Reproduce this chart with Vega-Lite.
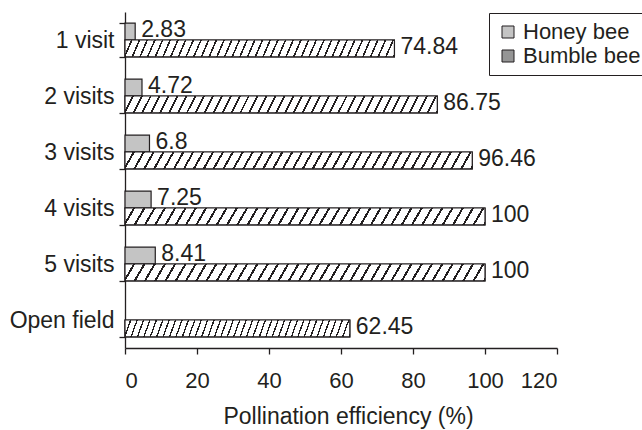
{
  "$schema": "https://vega.github.io/schema/vega-lite/v6.json",
  "width": 432,
  "height": 336,
  "autosize": {"type": "none"},
  "padding": {"left": 125, "top": 12, "right": 85, "bottom": 82},
  "config": {
    "view": {"stroke": null},
    "font": "Liberation Sans",
    "axis": {"grid": false, "domainColor": "#231f20", "tickColor": "#231f20", "labelColor": "#231f20", "titleColor": "#231f20", "domainWidth": 1.3, "tickWidth": 1.3, "tickSize": 6, "labelFontSize": 22, "titleFontSize": 23, "titleFontWeight": "normal", "labelFont": "Liberation Sans", "titleFont": "Liberation Sans"}
  },
  "data": {
    "values": [
      {"treatment": "1 visit", "bee": "Honey bee", "value": 2.83},
      {"treatment": "1 visit", "bee": "Bumble bee", "value": 74.84},
      {"treatment": "2 visits", "bee": "Honey bee", "value": 4.72},
      {"treatment": "2 visits", "bee": "Bumble bee", "value": 86.75},
      {"treatment": "3 visits", "bee": "Honey bee", "value": 6.8},
      {"treatment": "3 visits", "bee": "Bumble bee", "value": 96.46},
      {"treatment": "4 visits", "bee": "Honey bee", "value": 7.25},
      {"treatment": "4 visits", "bee": "Bumble bee", "value": 100},
      {"treatment": "5 visits", "bee": "Honey bee", "value": 8.41},
      {"treatment": "5 visits", "bee": "Bumble bee", "value": 100},
      {"treatment": "Open field", "bee": "Bumble bee", "value": 62.45}
    ]
  },
  "encoding": {
    "y": {"field": "treatment", "type": "nominal", "sort": ["1 visit", "2 visits", "3 visits", "4 visits", "5 visits", "Open field"], "scale": {"paddingInner": 0.4, "paddingOuter": 0.2}, "axis": {"title": null, "tickBand": "extent", "labelPadding": 5, "labelFontSize": 23}},
    "yOffset": {"field": "bee", "type": "nominal", "sort": ["Honey bee", "Bumble bee"], "scale": {"domain": ["Honey bee", "Bumble bee"]}},
    "x": {"field": "value", "type": "quantitative", "scale": {"domain": [0, 120], "nice": false}, "axis": {"title": "Pollination efficiency (%)", "values": [0, 20, 40, 60, 80, 100, 120], "labelPadding": 16, "titleBaseline": "alphabetic", "titleY": 75, "titleX": 223, "titleAlign": "center"}}
  },
  "layer": [
    {
      "mark": {"type": "bar", "stroke": "#231f20", "strokeWidth": 1.2},
      "encoding": {
        "color": {
          "field": "bee", "type": "nominal",
          "scale": {"domain": ["Honey bee", "Bumble bee"], "range": ["#c4c4c4", "#959595"]},
          "legend": {"title": null, "orient": "none", "legendX": 364, "legendY": 1, "strokeColor": "#231f20", "fillColor": "white", "padding": 8, "rowPadding": 2, "labelFontSize": 22, "labelFont": "Liberation Sans", "labelColor": "#231f20", "symbolType": "square", "symbolSize": 144, "symbolStrokeColor": "#231f20", "symbolStrokeWidth": 1, "labelOffset": 4}
        }
      }
    },
    {
      "transform": [{"filter": "datum.bee === 'Bumble bee'"}],
      "mark": {"type": "bar", "stroke": "#231f20", "strokeWidth": 1.2, "fill": {"gradient": "linear", "x1": 0, "y1": 0, "x2": 1.0263, "y2": 0.0277, "stops": [
            {"offset":0,"color":"#ffffff"},{"offset":0.0217,"color":"#ffffff"},{"offset":0.0217,"color":"#231f20"},{"offset":0.0278,"color":"#231f20"},
            {"offset":0.0278,"color":"#ffffff"},{"offset":0.0494,"color":"#ffffff"},{"offset":0.0494,"color":"#231f20"},{"offset":0.0556,"color":"#231f20"},
            {"offset":0.0556,"color":"#ffffff"},{"offset":0.0772,"color":"#ffffff"},{"offset":0.0772,"color":"#231f20"},{"offset":0.0833,"color":"#231f20"},
            {"offset":0.0833,"color":"#ffffff"},{"offset":0.1050,"color":"#ffffff"},{"offset":0.1050,"color":"#231f20"},{"offset":0.1111,"color":"#231f20"},
            {"offset":0.1111,"color":"#ffffff"},{"offset":0.1328,"color":"#ffffff"},{"offset":0.1328,"color":"#231f20"},{"offset":0.1389,"color":"#231f20"},
            {"offset":0.1389,"color":"#ffffff"},{"offset":0.1606,"color":"#ffffff"},{"offset":0.1606,"color":"#231f20"},{"offset":0.1667,"color":"#231f20"},
            {"offset":0.1667,"color":"#ffffff"},{"offset":0.1883,"color":"#ffffff"},{"offset":0.1883,"color":"#231f20"},{"offset":0.1944,"color":"#231f20"},
            {"offset":0.1944,"color":"#ffffff"},{"offset":0.2161,"color":"#ffffff"},{"offset":0.2161,"color":"#231f20"},{"offset":0.2222,"color":"#231f20"},
            {"offset":0.2222,"color":"#ffffff"},{"offset":0.2439,"color":"#ffffff"},{"offset":0.2439,"color":"#231f20"},{"offset":0.25,"color":"#231f20"},
            {"offset":0.25,"color":"#ffffff"},{"offset":0.2717,"color":"#ffffff"},{"offset":0.2717,"color":"#231f20"},{"offset":0.2778,"color":"#231f20"},
            {"offset":0.2778,"color":"#ffffff"},{"offset":0.2994,"color":"#ffffff"},{"offset":0.2994,"color":"#231f20"},{"offset":0.3056,"color":"#231f20"},
            {"offset":0.3056,"color":"#ffffff"},{"offset":0.3272,"color":"#ffffff"},{"offset":0.3272,"color":"#231f20"},{"offset":0.3333,"color":"#231f20"},
            {"offset":0.3333,"color":"#ffffff"},{"offset":0.3550,"color":"#ffffff"},{"offset":0.3550,"color":"#231f20"},{"offset":0.3611,"color":"#231f20"},
            {"offset":0.3611,"color":"#ffffff"},{"offset":0.3828,"color":"#ffffff"},{"offset":0.3828,"color":"#231f20"},{"offset":0.3889,"color":"#231f20"},
            {"offset":0.3889,"color":"#ffffff"},{"offset":0.4106,"color":"#ffffff"},{"offset":0.4106,"color":"#231f20"},{"offset":0.4167,"color":"#231f20"},
            {"offset":0.4167,"color":"#ffffff"},{"offset":0.4383,"color":"#ffffff"},{"offset":0.4383,"color":"#231f20"},{"offset":0.4444,"color":"#231f20"},
            {"offset":0.4444,"color":"#ffffff"},{"offset":0.4661,"color":"#ffffff"},{"offset":0.4661,"color":"#231f20"},{"offset":0.4722,"color":"#231f20"},
            {"offset":0.4722,"color":"#ffffff"},{"offset":0.4939,"color":"#ffffff"},{"offset":0.4939,"color":"#231f20"},{"offset":0.5,"color":"#231f20"},
            {"offset":0.5,"color":"#ffffff"},{"offset":0.5217,"color":"#ffffff"},{"offset":0.5217,"color":"#231f20"},{"offset":0.5278,"color":"#231f20"},
            {"offset":0.5278,"color":"#ffffff"},{"offset":0.5494,"color":"#ffffff"},{"offset":0.5494,"color":"#231f20"},{"offset":0.5556,"color":"#231f20"},
            {"offset":0.5556,"color":"#ffffff"},{"offset":0.5772,"color":"#ffffff"},{"offset":0.5772,"color":"#231f20"},{"offset":0.5833,"color":"#231f20"},
            {"offset":0.5833,"color":"#ffffff"},{"offset":0.6050,"color":"#ffffff"},{"offset":0.6050,"color":"#231f20"},{"offset":0.6111,"color":"#231f20"},
            {"offset":0.6111,"color":"#ffffff"},{"offset":0.6328,"color":"#ffffff"},{"offset":0.6328,"color":"#231f20"},{"offset":0.6389,"color":"#231f20"},
            {"offset":0.6389,"color":"#ffffff"},{"offset":0.6606,"color":"#ffffff"},{"offset":0.6606,"color":"#231f20"},{"offset":0.6667,"color":"#231f20"},
            {"offset":0.6667,"color":"#ffffff"},{"offset":0.6883,"color":"#ffffff"},{"offset":0.6883,"color":"#231f20"},{"offset":0.6944,"color":"#231f20"},
            {"offset":0.6944,"color":"#ffffff"},{"offset":0.7161,"color":"#ffffff"},{"offset":0.7161,"color":"#231f20"},{"offset":0.7222,"color":"#231f20"},
            {"offset":0.7222,"color":"#ffffff"},{"offset":0.7439,"color":"#ffffff"},{"offset":0.7439,"color":"#231f20"},{"offset":0.75,"color":"#231f20"},
            {"offset":0.75,"color":"#ffffff"},{"offset":0.7717,"color":"#ffffff"},{"offset":0.7717,"color":"#231f20"},{"offset":0.7778,"color":"#231f20"},
            {"offset":0.7778,"color":"#ffffff"},{"offset":0.7994,"color":"#ffffff"},{"offset":0.7994,"color":"#231f20"},{"offset":0.8056,"color":"#231f20"},
            {"offset":0.8056,"color":"#ffffff"},{"offset":0.8272,"color":"#ffffff"},{"offset":0.8272,"color":"#231f20"},{"offset":0.8333,"color":"#231f20"},
            {"offset":0.8333,"color":"#ffffff"},{"offset":0.8550,"color":"#ffffff"},{"offset":0.8550,"color":"#231f20"},{"offset":0.8611,"color":"#231f20"},
            {"offset":0.8611,"color":"#ffffff"},{"offset":0.8828,"color":"#ffffff"},{"offset":0.8828,"color":"#231f20"},{"offset":0.8889,"color":"#231f20"},
            {"offset":0.8889,"color":"#ffffff"},{"offset":0.9106,"color":"#ffffff"},{"offset":0.9106,"color":"#231f20"},{"offset":0.9167,"color":"#231f20"},
            {"offset":0.9167,"color":"#ffffff"},{"offset":0.9383,"color":"#ffffff"},{"offset":0.9383,"color":"#231f20"},{"offset":0.9444,"color":"#231f20"},
            {"offset":0.9444,"color":"#ffffff"},{"offset":0.9661,"color":"#ffffff"},{"offset":0.9661,"color":"#231f20"},{"offset":0.9722,"color":"#231f20"},
            {"offset":0.9722,"color":"#ffffff"},{"offset":0.9939,"color":"#ffffff"},{"offset":0.9939,"color":"#231f20"},{"offset":1,"color":"#231f20"}
          ]}},
      "encoding": {}
    },
    {
      "mark": {"type": "text", "align": "left", "baseline": "middle", "dx": 6, "dy": -1.5, "fontSize": 23, "font": "Liberation Sans", "color": "#231f20"},
      "encoding": {
        "text": {"field": "value", "type": "nominal"}
      }
    }
  ]
}
